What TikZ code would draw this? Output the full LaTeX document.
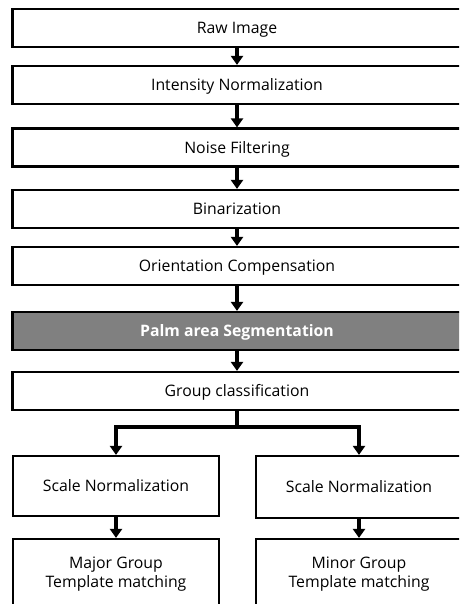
\documentclass[tikz,border=0pt]{standalone}
\usepackage{fontspec}
\setmainfont{Open Sans}
\usetikzlibrary{positioning,arrows.meta}

\tikzset{
  box/.style={draw=black, line width=2.2pt, fill=white, rectangle,
    minimum width=449pt, minimum height=38pt, inner sep=0pt, align=center,
    font=\fontsize{15.8}{19.5}\selectfont},
  stage/.style={box, text height=11.3pt, text depth=0pt},
  halfstage/.style={stage, minimum width=206pt},
  pairstage/.style={box, minimum width=206pt, minimum height=70pt},
  keystage/.style={stage, fill=black!50, text=white, font=\fontsize{15.8}{19.5}\selectfont\bfseries},
  flow/.style={line width=3.2pt, -{Triangle[width=12pt,length=9pt]}},
}

\begin{document}
\begin{tikzpicture}[x=1pt, y=-1pt]
        % Rahmen
        \useasboundingbox (0,0) rectangle (459,604);
        \clip (0,0) rectangle (459,604);

        % Hauptkette
        \node[stage] (raw) at (237,28) {Raw Image};
        \node[stage] (intensity) at (237,85) {Intensity Normalization};
        \node[stage] (noise) at (237,147.5) {Noise Filtering};
        \node[stage] (binar) at (237,209) {Binarization};
        \node[stage] (orient) at (237,266) {Orientation Compensation};
        \node[keystage] (palm) at (237,331) {Palm area Segmentation};
        \node[stage] (group) at (237,391) {Group classification};

        % Zweige
        \node[halfstage, minimum height=60pt] (scaleL) at (116,486) {Scale Normalization};
        \node[halfstage, minimum height=62pt] (scaleR) at (359,487) {Scale Normalization};
        \node[pairstage] (major) at (116,574) {Major Group\\Template matching};
        \node[pairstage] (minor) at (359,574) {Minor Group\\Template matching};

        % Pfeile
        \draw[flow] (raw) -- (intensity);
        \draw[flow] (intensity) -- (noise);
        \draw[flow] (noise) -- (binar);
        \draw[flow] (binar) -- (orient);
        \draw[flow] (orient) -- (palm);
        \draw[flow] (palm) -- (group);

        \coordinate (split) at (237,427);
        \draw[line width=3.2pt] (group.south) -- (split);
        \draw[flow] (split) -| (scaleL.north);
        \draw[flow] (split) -| (scaleR.north);

        \draw[flow] (scaleL) -- (major);
        \draw[flow] (scaleR) -- (minor);

    \end{tikzpicture}
\end{document}
